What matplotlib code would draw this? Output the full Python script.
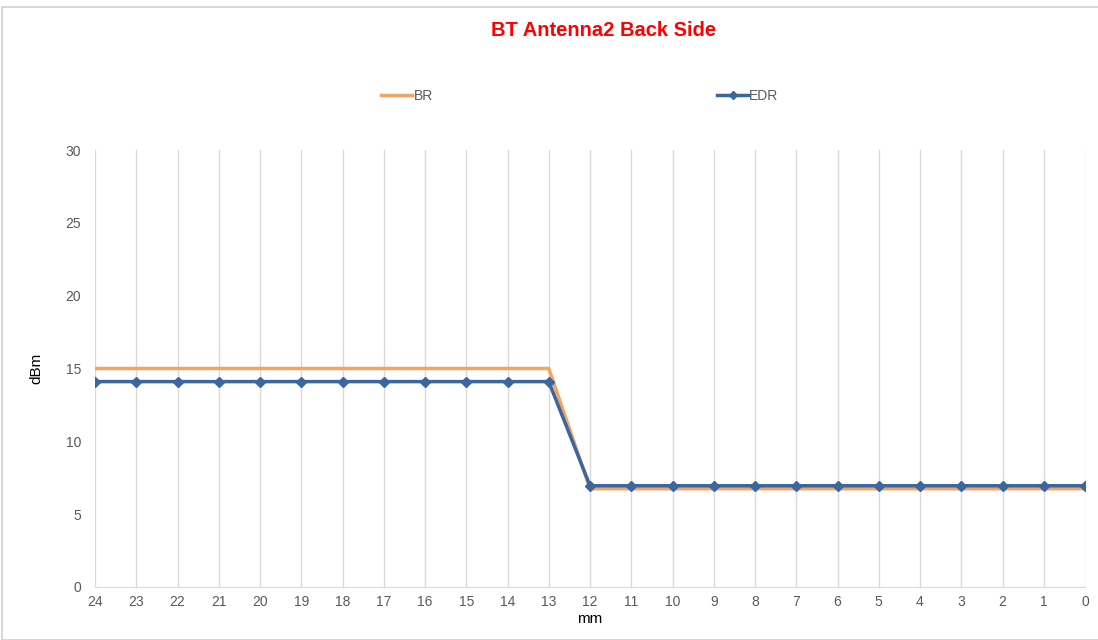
import matplotlib.pyplot as plt
from matplotlib.lines import Line2D
from matplotlib.patches import Rectangle

plt.rcParams['font.family'] = ['Liberation Sans', 'DejaVu Sans']

# data
mm = list(range(24, -1, -1))
br = [15.0] * 12 + [6.75] * 13
edr = [14.1] * 12 + [6.95] * 13
yticks = [0, 5, 10, 15, 20, 25, 30]

br_color = '#F4A460'
edr_color = '#3A67A0'
grid_color = '#D9D9D9'
text_color = '#595959'

fig = plt.figure(figsize=(10.98, 6.40), dpi=100)
ax = fig.add_axes([95 / 1098, 1 - 587 / 640, (1085 - 95) / 1098, (587 - 150) / 640])

# chart frame
fig.patches.append(Rectangle((2 / 1098, 0), 1, 1 - 7 / 640, transform=fig.transFigure,
                             fill=False, edgecolor='#D0D0D0', linewidth=1.2))

x = list(range(len(mm)))
ax.plot(x, br, color=br_color, linewidth=2.5, zorder=3)
ax.plot(x, edr, color=edr_color, linewidth=2.5, marker='D', markersize=5, zorder=4)

ax.set_xlim(0, len(mm) - 1)
ax.set_ylim(0, 30)
ax.set_xticks(x)
ax.set_xticklabels([str(v) for v in mm])
ax.set_yticks(yticks)
ax.tick_params(axis='both', length=0, labelsize=10, colors=text_color)
ax.tick_params(axis='x', pad=6)
ax.tick_params(axis='y', pad=10)

ax.grid(axis='x', color=grid_color, linewidth=1)
ax.set_axisbelow(True)
for s in ['top', 'right', 'left']:
    ax.spines[s].set_visible(False)
ax.spines['bottom'].set_color(grid_color)

ax.set_xlabel('mm', fontsize=11, color='black', labelpad=2)
ax.set_ylabel('dBm', fontsize=11, color='black', labelpad=16)

fig.text(604 / 1098, 1 - 30 / 640, 'BT Antenna2 Back Side', color='red',
         fontsize=14.5, fontweight='bold', ha='center', va='center')

handles = [
    Line2D([], [], color=br_color, linewidth=2.5, marker='_', markersize=6),
    Line2D([], [], color=edr_color, linewidth=2.5, marker='D', markersize=4),
]
fig.legend(handles, ['BR', 'EDR'], loc='center', bbox_to_anchor=(580 / 1098, 1 - 96 / 640),
           ncol=2, frameon=False, fontsize=10, handlelength=2.2, handletextpad=0.1,
           columnspacing=20.5, labelcolor=text_color)

fig.savefig('out.png', dpi=100, facecolor='white')
